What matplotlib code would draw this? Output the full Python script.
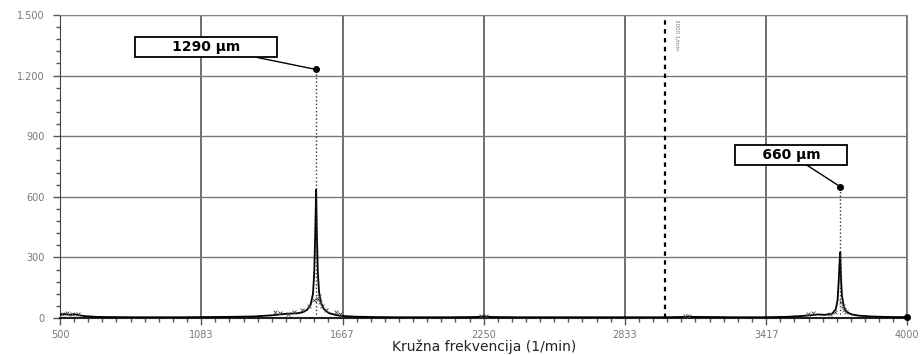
import matplotlib.pyplot as plt
from matplotlib.ticker import MultipleLocator, FixedLocator

# spectrum
freq = [500, 520, 540, 560, 580, 600, 650, 700, 800, 900, 1000, 1100, 1200, 1300,
        1380, 1420, 1450, 1480, 1500, 1520, 1535, 1545, 1550, 1554, 1558, 1561,
        1565, 1570, 1578, 1590, 1610, 1640, 1670, 1720, 1800, 1900, 2000, 2100,
        2200, 2250, 2300, 2400, 2500, 2600, 2700, 2800, 2900, 3000, 3100, 3200,
        3300, 3400, 3500, 3560, 3600, 3630, 3660, 3690, 3705, 3712, 3717, 3720,
        3723, 3726, 3730, 3738, 3750, 3770, 3800, 3850, 3900, 3950, 4000]
amp = [18, 20, 16, 19, 14, 10, 6, 5, 4, 4, 4, 5, 6, 8,
       14, 20, 22, 24, 28, 40, 65, 120, 220, 400, 635, 420,
       230, 130, 75, 45, 25, 15, 10, 7, 5, 4, 4, 4,
       5, 7, 5, 4, 4, 4, 4, 4, 4, 4, 6, 5,
       4, 4, 6, 10, 14, 18, 16, 22, 45, 90, 190, 270,
       325, 200, 110, 55, 30, 18, 12, 8, 6, 5, 5]

# scattered raw points around the peaks
pts_x = [510, 530, 550, 575, 1390, 1410, 1440, 1465, 1500, 1530, 1548, 1566,
         1570, 1575, 1582, 1600, 1640, 1655, 2240, 2260, 3080, 3100,
         3590, 3610, 3680, 3700, 3728, 3735, 3740, 3745]
pts_y = [22, 25, 20, 18, 30, 25, 22, 28, 40, 60, 90, 95,
         110, 80, 60, 40, 30, 20, 12, 10, 10, 8,
         20, 25, 20, 28, 80, 60, 40, 30]

peak_f = [1558, 3723]
peak_mark = [1230, 650]
peak_text = ['       1290 μm       ', '     660 μm     ']
box_pos = [(1103, 1341), (3520, 807)]

xticks = [500, 1083, 1667, 2250, 2833, 3417, 4000]
yticks = [0, 300, 600, 900, 1200, 1500]
ylabels = ['0', '300', '600', '900', '1.200', '1.500']

fig = plt.figure(figsize=(9.23, 3.55), dpi=100)
ax = fig.add_axes([0.065, 0.104, 0.918, 0.854])

ax.set_xlim(500, 4000)
ax.set_ylim(0, 1500)

ax.xaxis.set_major_locator(FixedLocator(xticks))
ax.set_xticklabels([str(t) for t in xticks])
ax.xaxis.set_minor_locator(FixedLocator(
    [xticks[i] + (xticks[i+1] - xticks[i]) * k / 10
     for i in range(len(xticks) - 1) for k in range(1, 10)]))
ax.yaxis.set_major_locator(FixedLocator(yticks))
ax.set_yticklabels(ylabels)
ax.yaxis.set_minor_locator(MultipleLocator(60))

ax.tick_params(axis='both', which='major', direction='out', length=5, width=1,
               color='#555555', labelsize=7, labelcolor='#777777')
ax.tick_params(axis='y', which='major', pad=6)
ax.tick_params(axis='both', which='minor', direction='out', length=3, width=1,
               color='#555555')

for t in xticks[1:]:
    ax.axvline(t, color='#555555', lw=1.2, zorder=1)
for t in yticks[1:]:
    ax.axhline(t, color='#777777', lw=1.0, zorder=1)

for s in ['top', 'right']:
    ax.spines[s].set_color('#888888')
ax.spines['left'].set_color('#444444')
ax.spines['bottom'].set_color('#222222')
ax.spines['bottom'].set_linewidth(1.5)

# dashed marker line
ax.axvline(3000, color='black', ls=(0, (2, 2)), lw=1.6, zorder=2)
ax.text(3040, 1480, '3000 1/min', rotation=270, fontsize=4, color='#777777',
        va='top', ha='left')

ax.plot(freq, amp, color='black', lw=1.3, zorder=3)
ax.scatter(pts_x, pts_y, marker='x', s=8, color='#444444', lw=0.6, zorder=3)
ax.plot(4000, 5, 'o', color='black', ms=4, clip_on=False, zorder=4)

for f, m, txt, pos in zip(peak_f, peak_mark, peak_text, box_pos):
    ax.plot([f, f], [0, m], color='#333333', ls=':', lw=1.0, zorder=3)
    ax.plot(f, m, 'o', color='black', ms=4, zorder=4)
    ax.annotate(txt, xy=(f, m), xytext=pos, ha='center', va='center',
                fontsize=10, fontweight='bold', zorder=5,
                bbox=dict(boxstyle='square,pad=0.2', fc='white', ec='black', lw=1.3),
                arrowprops=dict(arrowstyle='-', color='black', lw=1.0,
                                shrinkA=0, shrinkB=2))

ax.set_xlabel('Kružna frekvencija (1/min)', fontsize=10, color='#222222', labelpad=0)

fig.savefig('out.png', dpi=100)
